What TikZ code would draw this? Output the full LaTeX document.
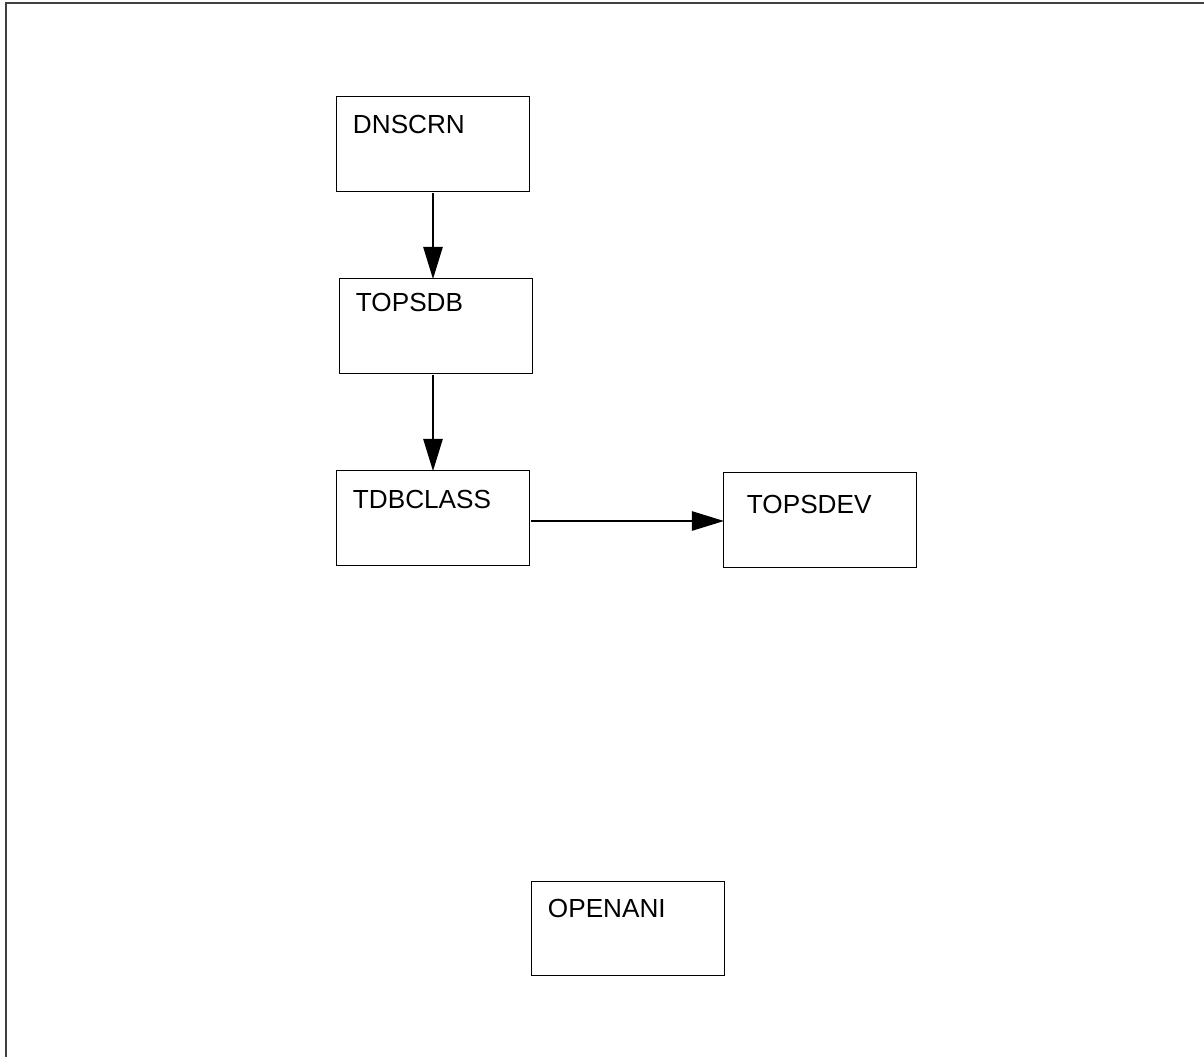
\documentclass[tikz,border=0pt]{standalone}
\usepackage{fontspec}
\setmainfont{Liberation Sans}
\usetikzlibrary{positioning}
\usetikzlibrary{arrows.meta}

\tikzset{
	modbox/.style={draw=black,line width=0.7pt,minimum width=48mm,minimum height=23.5mm,
		inner xsep=4mm,inner ysep=0pt,outer sep=0pt,text width=40mm,align=left,
		text height=9.25mm,text depth=14.25mm,font=\fontsize{18.6}{20}\selectfont},
	callarrow/.style={-{Triangle[length=8mm,width=4.8mm]},line width=1.4pt}
}

\begin{document}
\begin{tikzpicture}[x=0.025cm,y=-0.025cm]
	\useasboundingbox (0,0) rectangle (1204,1057);
	\draw[line width=2pt,black!75] (6,1060) -- (6,3) -- (1207,3);

	\node [modbox] at (433,144) (dnscrn) {DNSCRN};
	\node [modbox,text height=8.25mm,text depth=15.25mm] at (436,326) (topsdb) {TOPSDB};
	\node [modbox] at (433,518) (tdbclass) {TDBCLASS};
	\node [modbox,inner xsep=5.75mm,text width=36.5mm,text height=10mm,text depth=13.5mm] at (820,520) (topsdev) {TOPSDEV};
	\node [modbox,text height=9mm,text depth=14.5mm] at (628,928) (openani) {OPENANI};

	\draw[callarrow] ([yshift=-0.5mm]dnscrn.south) -- (dnscrn.south |- topsdb.north);
	\draw[callarrow] ([yshift=-0.5mm]topsdb.south -| dnscrn.south) -- (dnscrn.south |- tdbclass.north);
	\draw[callarrow] ([xshift=0.5mm,yshift=-0.75mm]tdbclass.east) -- ([yshift=-0.75mm]tdbclass.east -| topsdev.west);
\end{tikzpicture}
\end{document}
